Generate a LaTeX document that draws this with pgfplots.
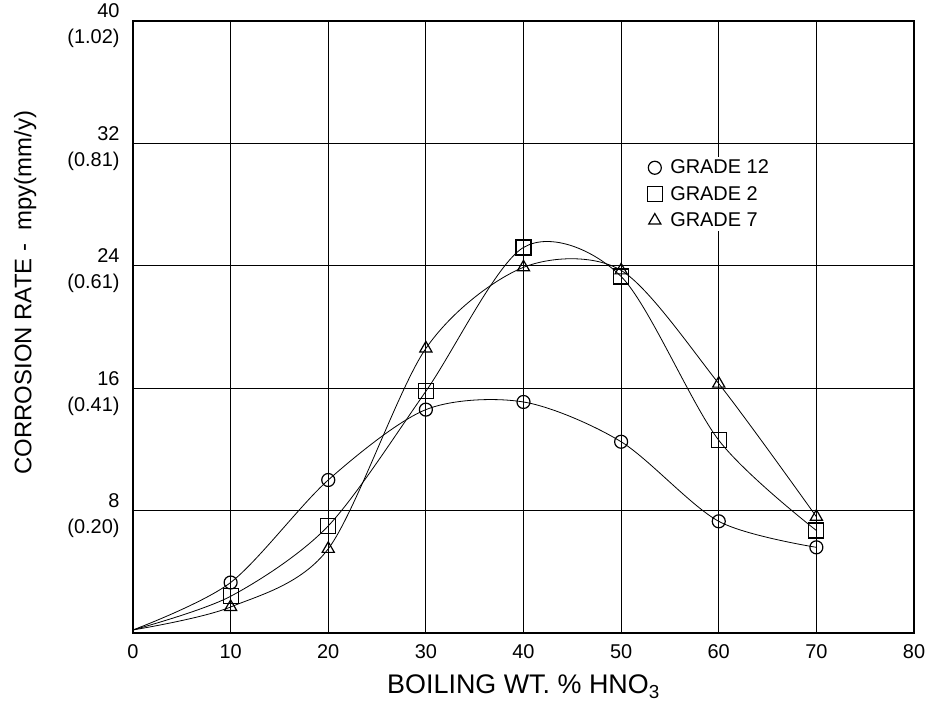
\documentclass[border=0pt]{standalone}
\usepackage{pgfplots}
\pgfplotsset{compat=1.18}
\usepackage{fontspec}
\setmainfont{Liberation Sans}

\pgfplotstableread{
x y
0 0.2
10 3.3
20 10.0
30 14.6
40 15.1
50 12.5
60 7.3
70 5.6
}\gradetwelve
\pgfplotstableread{
x y
0 0.2
10 2.4
20 7.0
30 15.8
40 25.2
50 23.3
60 12.6
70 6.7
}\gradetwo
\pgfplotstableread{
x y
0 0.2
10 1.7
20 5.5
30 18.6
40 23.9
50 23.7
60 16.3
70 7.6
}\gradeseven

\begin{document}
\begin{tikzpicture}
\begin{axis}[
  at={(0,0)}, anchor=south west,
  scale only axis, width=781bp, height=612bp,
  xmin=0, xmax=80, ymin=0, ymax=40,
  xtick={0,10,...,80}, ytick={8,16,24,32,40},
  yticklabels={{8\\(0.20)},{16\\(0.41)},{24\\(0.61)},{32\\(0.81)},{40\\(1.02)}},
  /pgf/number format/assume math mode=true,
  ticklabel style={font=\fontsize{20}{26}\selectfont},
  yticklabel style={align=right, yshift=-5bp, xshift=-10bp},
  xticklabel style={yshift=-8bp},
  grid=major, major grid style={black, line width=1.2bp},
  major tick length=0pt,
  axis line style={black, line width=1.2bp},
  xlabel={BOILING WT. \% HNO\textsubscript{3}},
  ylabel={CORROSION RATE -\ \ mpy(mm/y)},
  xlabel style={font=\fontsize{27}{30}\selectfont, at={(axis description cs:0.5,-0.088)}, anchor=center},
  ylabel style={font=\fontsize{24}{28}\selectfont, at={(axis description cs:-0.138,0.556)}, anchor=center},
  legend style={at={(0.657,0.778)}, anchor=north west, draw=none, fill=white,
    font=\fontsize{20}{24}\selectfont, row sep=7bp, inner sep=1bp,
    nodes={inner xsep=4bp},
    /tikz/every odd column/.append style={column sep=4bp}},
  legend cell align=left,
  legend image code/.code={\draw[#1] plot coordinates {(0.15cm,0cm)};},
]
\addplot[black, line width=0.8bp, smooth, no marks, forget plot] table {\gradetwelve};
\addplot[black, line width=0.8bp, smooth, no marks, forget plot] table {\gradetwo};
\addplot[black, line width=0.8bp, smooth, no marks, forget plot] table {\gradeseven};
\addplot[only marks, mark=o, mark size=6.5bp, mark options={black, fill=white, line width=1.2bp}, skip coords between index={0}{1}] table {\gradetwelve};
\addlegendentry{GRADE 12}
\addplot[only marks, mark=square, mark size=7.5bp, mark options={black, fill=white, line width=1.2bp}, skip coords between index={0}{1}] table {\gradetwo};
\addlegendentry{GRADE 2}
\addplot[only marks, mark=triangle, mark size=7bp, mark options={black, fill=white, line width=1.2bp}, skip coords between index={0}{1}] table {\gradeseven};
\addlegendentry{GRADE 7}
\end{axis}
\pgfresetboundingbox
\path (-133bp,-72bp) rectangle (797bp,633bp);
\end{tikzpicture}
\end{document}
